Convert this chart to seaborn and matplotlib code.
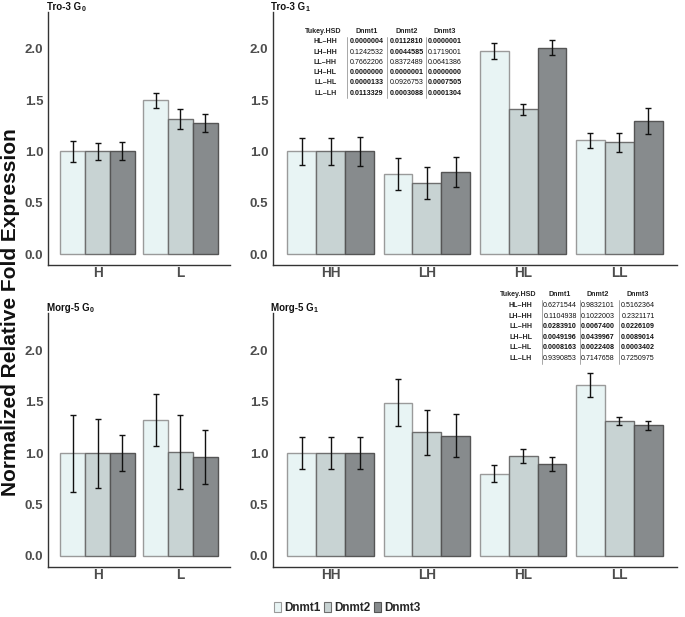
import matplotlib
matplotlib.use("Agg")
import matplotlib.pyplot as plt
import seaborn as sns
import pandas as pd
import numpy as np

sns.set_theme(style="white")
plt.rcParams['font.family'] = ['Liberation Sans', 'DejaVu Sans']

genes = ["Dnmt1", "Dnmt2", "Dnmt3"]
colors = ["#e8f4f4", "#c8d3d3", "#878b8d"]
edges = ["#9a9a9a", "#6e6e6e", "#555555"]

# Tro-3 G0
g0_cats = ["H", "L"]
tro_g0_mean = {"Dnmt1": [1.00, 1.50], "Dnmt2": [1.00, 1.32], "Dnmt3": [1.00, 1.28]}
tro_g0_err = {"Dnmt1": [0.10, 0.075], "Dnmt2": [0.085, 0.097], "Dnmt3": [0.088, 0.086]}
# Tro-3 G1
g1_cats = ["HH", "LH", "HL", "LL"]
tro_g1_mean = {"Dnmt1": [1.00, 0.78, 1.98, 1.11],
               "Dnmt2": [1.00, 0.69, 1.41, 1.09],
               "Dnmt3": [1.00, 0.80, 2.01, 1.30]}
tro_g1_err = {"Dnmt1": [0.135, 0.155, 0.076, 0.073],
              "Dnmt2": [0.134, 0.155, 0.055, 0.092],
              "Dnmt3": [0.138, 0.143, 0.073, 0.125]}
# Morg-5 G0
morg_g0_mean = {"Dnmt1": [1.00, 1.32], "Dnmt2": [1.00, 1.01], "Dnmt3": [1.00, 0.96]}
morg_g0_err = {"Dnmt1": [0.374, 0.252], "Dnmt2": [0.335, 0.355], "Dnmt3": [0.179, 0.26]}
# Morg-5 G1
morg_g1_mean = {"Dnmt1": [1.00, 1.49, 0.80, 1.66],
                "Dnmt2": [1.00, 1.20, 0.97, 1.31],
                "Dnmt3": [1.00, 1.17, 0.89, 1.27]}
morg_g1_err = {"Dnmt1": [0.158, 0.23, 0.082, 0.116],
               "Dnmt2": [0.158, 0.222, 0.07, 0.041],
               "Dnmt3": [0.152, 0.205, 0.067, 0.044]}

tukey_rows = ["HL\u2013HH", "LH\u2013HH", "LL\u2013HH", "LH\u2013HL", "LL\u2013HL", "LL\u2013LH"]
tro_tukey = [["0.0000004", "0.0112810", "0.0000001"],
             ["0.1242532", "0.0044585", "0.1719001"],
             ["0.7662206", "0.8372489", "0.0641386"],
             ["0.0000000", "0.0000001", "0.0000000"],
             ["0.0000133", "0.0926753", "0.0007505"],
             ["0.0113329", "0.0003088", "0.0001304"]]
tro_bold = [[1, 1, 1], [0, 1, 0], [0, 0, 0], [1, 1, 1], [1, 0, 1], [1, 1, 1]]
morg_tukey = [["0.6271544", "0.9832101", "0.5162364"],
              ["0.1104938", "0.1022003", "0.2321171"],
              ["0.0283910", "0.0067400", "0.0226109"],
              ["0.0049196", "0.0439967", "0.0089014"],
              ["0.0008163", "0.0022408", "0.0003402"],
              ["0.9390853", "0.7147658", "0.7250975"]]
morg_bold = [[0, 0, 0], [0, 0, 0], [1, 1, 1], [1, 1, 1], [1, 1, 1], [0, 0, 0]]

W, H = 685, 617
fig = plt.figure(figsize=(W / 100, H / 100), dpi=100)


def axes_px(l, t, r, b):
    return fig.add_axes([l / W, 1 - b / H, (r - l) / W, (b - t) / H])


def panel(ax, cats, means, errs, title_main, title_sub):
    rows = []
    for g in genes:
        for c, m in zip(cats, means[g]):
            rows.append({"cat": c, "gene": g, "val": m})
    df = pd.DataFrame(rows)
    sns.barplot(data=df, x="cat", y="val", hue="gene", order=cats, hue_order=genes,
                palette=colors, width=0.9, errorbar=None, ax=ax, legend=False,
                linewidth=1.0, saturation=1)
    for gi, (cont, g) in enumerate(zip(ax.containers, genes)):
        for bar, e in zip(cont, errs[g]):
            bar.set_edgecolor(edges[gi])
            bar.set_linewidth(1.0)
            xc = bar.get_x() + bar.get_width() / 2
            ax.errorbar(xc, bar.get_height(), yerr=e, color="#111111", lw=1.0,
                        capsize=2.2, capthick=1.0, zorder=5)
    ax.set_xlim(-0.6, len(cats) - 0.4)
    ax.set_ylim(-0.107, 2.36)
    ax.set_yticks([0, 0.5, 1.0, 1.5, 2.0])
    ax.set_yticklabels(["0.0", "0.5", "1.0", "1.5", "2.0"])
    ax.set_xlabel("")
    ax.set_ylabel("")
    for s in ["top", "right"]:
        ax.spines[s].set_visible(False)
    for s in ["left", "bottom"]:
        ax.spines[s].set_color("#333333")
        ax.spines[s].set_linewidth(1.0)
    ax.tick_params(axis="y", length=2, width=0.6, color="#333333", pad=1.5,
                   labelsize=9.5, labelcolor="#4d4d4d")
    ax.tick_params(axis="x", length=0, pad=1, labelsize=9.8, labelcolor="#4d4d4d")
    for lab in ax.get_xticklabels() + ax.get_yticklabels():
        lab.set_fontweight("bold")
    t = ax.text(-0.005, 1.008, title_main, transform=ax.transAxes, ha="left",
                va="baseline", fontsize=7, fontweight="bold", color="#111111")
    ax.annotate(title_sub, xycoords=t, xy=(1, 0), xytext=(0.3, -1.0),
                textcoords="offset points", ha="left", va="bottom",
                fontsize=5, fontweight="bold", color="#111111")


ax1 = axes_px(48, 12, 230, 265)
panel(ax1, g0_cats, tro_g0_mean, tro_g0_err, "Tro-3 G", "0")
ax2 = axes_px(273, 12, 677, 265)
panel(ax2, g1_cats, tro_g1_mean, tro_g1_err, "Tro-3 G", "1")
ax3 = axes_px(48, 313, 230, 567)
panel(ax3, g0_cats, morg_g0_mean, morg_g0_err, "Morg-5 G", "0")
ax4 = axes_px(273, 313, 677, 567)
panel(ax4, g1_cats, morg_g1_mean, morg_g1_err, "Morg-5 G", "1")


def table(x_lab, col_x, seps, y_head, row_dy, vals, bold):
    fs = 5.1
    fig.text((x_lab + 4) / W, 1 - y_head / H, "Tukey.HSD", ha="right", va="center",
             fontsize=fs, fontweight="bold")
    for cx, g in zip(col_x, genes):
        fig.text(cx / W, 1 - y_head / H, g, ha="center", va="center",
                 fontsize=fs, fontweight="bold")
    for i, rl in enumerate(tukey_rows):
        y = y_head + row_dy * (i + 1)
        fig.text(x_lab / W, 1 - y / H, rl, ha="right", va="center",
                 fontsize=fs, fontweight="bold")
        for j, cx in enumerate(col_x):
            fig.text(cx / W, 1 - y / H, vals[i][j], ha="center", va="center",
                     fontsize=fs, fontweight="bold" if bold[i][j] else "normal",
                     color="#111111")
    for sx in seps:
        fig.add_artist(plt.Line2D([sx / W, sx / W],
                                  [1 - (y_head + 0.5 * row_dy) / H, 1 - (y_head + 6.5 * row_dy) / H],
                                  color="#999999", lw=0.6))


table(337, [367, 407, 445], [347, 387, 426], 31.5, 10.3, tro_tukey, tro_bold)
table(532, [560, 598, 638], [542, 580, 619], 295, 10.6, morg_tukey, morg_bold)

fig.text(11 / W, 1 - 312 / H, "Normalized Relative Fold Expression", rotation=90,
         ha="center", va="center", fontsize=15, fontweight="bold", color="#111111")

handles = [plt.Rectangle((0, 0), 1, 1, facecolor=c, edgecolor=e, lw=0.8)
           for c, e in zip(colors, edges)]
fig.legend(handles, genes, loc="center", bbox_to_anchor=(347 / W, 1 - 608 / H),
           ncol=3, frameon=False, handlelength=0.6, handleheight=1.0,
           handletextpad=0.25, columnspacing=0.3,
           prop={"weight": "bold", "size": 8.5})

fig.savefig("out.png", dpi=100)
